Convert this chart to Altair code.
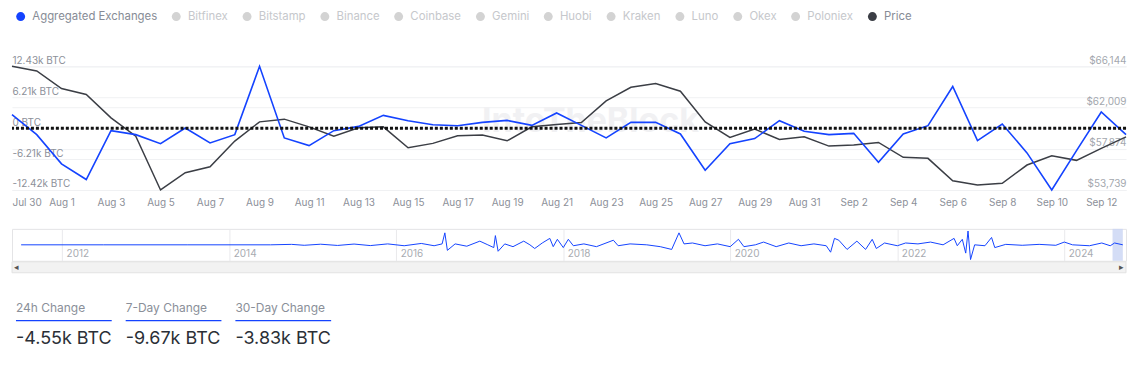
import altair as alt
import pandas as pd

# ---------------- data ----------------
dates = pd.date_range("2024-07-30", "2024-09-13", freq="D").strftime("%Y-%m-%d").tolist()

netflow_k = [2.71, -1.30, -7.17, -10.32, -0.50, -1.30, -3.11, 0.04, -2.97, -1.30,
             12.43, -1.96, -3.51, -0.50, 0.36, 2.57, 1.50, 0.70, 0.50, 1.16,
             1.56, 0.56, 3.05, 0.56, -1.96, 1.16, 1.16, -1.16, -8.46, -3.11,
             -2.10, 1.50, -0.64, -1.30, -1.04, -6.85, -1.16, 0.50, 8.38, -2.50,
             0.84, -4.97, -12.42, -4.51, 3.25, -1.30]

price_usd = [66144, 65674, 63913, 63313, 60972, 59141, 53739, 55470, 56070, 58641,
             60572, 60842, 60072, 59141, 59972, 60072, 57971, 58411, 59171, 59241,
             58671, 60072, 60312, 60512, 62673, 64043, 64413, 63643, 60572, 59011,
             59841, 58811, 59071, 58141, 58241, 58511, 57010, 56910, 54669, 54239,
             54409, 56240, 57170, 56710, 57911, 59071]

series_names = ["Aggregated Exchanges", "Bitfinex", "Bitstamp", "Binance", "Coinbase",
                "Gemini", "Huobi", "Kraken", "Luno", "Okex", "Poloniex", "Price"]

left_ticks = [-12.42, -6.21, 0, 6.21, 12.43]
right_ticks = [53739, 57874, 62009, 66144]

# long-range navigator (hand-read estimates of the overview line)
nav_dates = ["2011-07-06", "2012-07-01", "2013-07-01", "2014-07-01", "2014-10-01", "2014-11-25",
             "2015-02-05", "2015-04-20", "2015-07-01", "2015-09-10", "2015-11-25", "2016-02-05",
             "2016-04-20", "2016-06-15", "2016-07-20", "2016-08-01", "2016-08-12", "2016-09-15",
             "2016-11-05", "2017-01-01", "2017-02-05", "2017-03-03", "2017-03-10", "2017-03-22",
             "2017-04-20", "2017-05-26", "2017-07-12", "2017-08-08", "2017-08-29", "2017-10-01",
             "2017-11-03", "2017-11-18", "2017-12-06", "2018-01-01", "2018-01-23", "2018-02-14",
             "2018-04-01", "2018-05-26", "2018-08-08", "2018-08-29", "2018-10-20", "2019-01-01",
             "2019-03-01", "2019-04-20", "2019-05-22", "2019-06-13", "2019-07-20", "2019-09-13",
             "2019-11-06", "2020-01-01", "2020-02-06", "2020-03-01", "2020-04-20", "2020-05-26",
             "2020-07-20", "2020-09-13", "2020-11-06", "2021-01-01", "2021-02-24", "2021-03-15",
             "2021-04-01", "2021-04-20", "2021-05-26", "2021-07-08", "2021-08-15", "2021-09-13",
             "2021-10-01", "2021-11-06", "2022-01-01", "2022-02-06", "2022-04-01", "2022-05-26",
             "2022-07-20", "2022-09-06", "2022-09-20", "2022-10-12", "2022-10-27", "2022-11-06",
             "2022-11-17", "2022-12-05", "2023-01-19", "2023-02-17", "2023-03-03", "2023-04-20",
             "2023-07-01", "2023-09-13", "2023-11-25", "2024-01-01", "2024-02-06", "2024-04-20",
             "2024-06-13", "2024-07-20", "2024-08-08", "2024-09-13"]
nav_values = [0, 0, 0, 0, 1.5, -1.5,
              2, -2, 2.5, -2.5, 3, -3,
              4.5, -3, 3, 39, -18, 3,
              -4.5, 12, 0, -9, 30, -21,
              3, -6, 12, 0, -12, 6,
              21, -6, 18, -9, 18, -3,
              3, -6, 15, -3, 3, 0,
              -6, -15, 39, 3, 6, -3,
              3, -6, 18, -6, 0, 9,
              -6, 6, -3, 3, -3, -24,
              21, 15, -15, 12, -15, 18,
              -12, 6, -3, 6, 3, 9,
              0, 21, -3, 18, -27, 45,
              -48, 0, -3, 24, -9, 1.5,
              -1.5, 1.5, -1.5, 9, 0, -3,
              6, -3, 6, 0]

stat_labels = ["24h Change", "7-Day Change", "30-Day Change"]
stat_values = ["-4.55k BTC", "-9.67k BTC", "-3.83k BTC"]

# ---------------- style ----------------
BLUE = "#1443ff"
DARK = "#3b3e45"
AXIS_GRAY = "#8c9099"
GRID = "#f0f1f3"
FONT = "Inter"
series_colors = [BLUE] + ["#d3d3d3"] * 10 + [DARK]


def ms(d):
    return int(pd.Timestamp(d, tz="UTC").timestamp() * 1000)


x_tick_vals = [ms(d) for d in dates[0:-1:2]]
year_vals = [ms(f"{y}-01-01") for y in range(2012, 2025, 2)]

df = pd.DataFrame({
    "date": dates * 2,
    "series": ["Aggregated Exchanges"] * len(dates) + ["Price"] * len(dates),
    "value": netflow_k + price_usd,
})
df_flow = df[df.series == "Aggregated Exchanges"]
df_price = df[df.series == "Price"]

x_axis = alt.Axis(title=None, values=x_tick_vals, format="%b %-d", ticks=False, tickSize=0,
                  domain=False, grid=False, labelPadding=8, labelFontSize=10,
                  labelColor=AXIS_GRAY, labelFont=FONT, labelFlush=True)
x_main = alt.X("date:T", scale=alt.Scale(type="utc", nice=False), axis=x_axis)

left_scale = alt.Scale(domain=[-12.42, 12.43], nice=False, zero=False)
left_axis = alt.Axis(title=None, orient="left", values=left_ticks,
                     labelExpr="datum.value == 0 ? '0 BTC' : datum.value + 'k BTC'",
                     labelAlign="left", labelBaseline="bottom", labelPadding=0, labelOffset=-1,
                     ticks=False, tickSize=0, domain=False, grid=True, gridColor=GRID,
                     labelFlush=False, labelColor=AXIS_GRAY, labelFontSize=10, labelFont=FONT)
right_axis = alt.Axis(title=None, orient="right", values=right_ticks, format="$,d",
                      labelAlign="right", labelBaseline="bottom", labelPadding=0, labelOffset=-1,
                      ticks=False, tickSize=0, domain=False, grid=True, gridColor=GRID,
                      labelFlush=False, labelColor="#a3a7ae", labelFontSize=10, labelFont=FONT)

watermark = alt.Chart(pd.DataFrame({"t": ["IntoTheBlock"]})).mark_text(
    font=FONT, fontSize=34, fontWeight="bold", color="#f1f1f3", align="center", baseline="middle"
).encode(x=alt.value(580), y=alt.value(56), text="t:N")

price_line = alt.Chart(df_price).mark_line(color=DARK, strokeWidth=1.5).encode(
    x=x_main,
    y=alt.Y("value:Q", scale=alt.Scale(domain=[53739, 66144], nice=False, zero=False), axis=right_axis),
)

flow_line = alt.Chart(df_flow).mark_line(color=BLUE, strokeWidth=1.6).encode(
    x=x_main, y=alt.Y("value:Q", scale=left_scale, axis=left_axis)
)
zero_rule = alt.Chart(pd.DataFrame({"value": [0]})).mark_rule(
    color="#111111", strokeWidth=3, strokeDash=[3, 2]
).encode(y=alt.Y("value:Q", scale=left_scale, axis=left_axis))

legend_pts = alt.Chart(pd.DataFrame({"series": series_names})).mark_circle(opacity=0).encode(
    x=alt.value(30), y=alt.value(30),
    color=alt.Color("series:N", scale=alt.Scale(domain=series_names, range=series_colors),
                    legend=alt.Legend(orient="none", legendX=3, legendY=-56, direction="horizontal",
                                      columns=12, title=None, symbolType="circle", symbolSize=80,
                                      symbolOpacity=1, symbolStrokeWidth=0, labelFontSize=11.4,
                                      labelFont=FONT, labelOffset=6, columnPadding=13,
                                      labelColor={"expr": "indexof(['Aggregated Exchanges','Price'], datum.label) >= 0 ? '#878c96' : '#c6c8cc'"})),
)

main = alt.layer(
    watermark, price_line, alt.layer(flow_line, zero_rule), legend_pts
).resolve_scale(y="independent").properties(width=1117, height=124)

# ---------------- navigator ----------------
nav_df = pd.DataFrame({"date": nav_dates, "value": nav_values})
nav_x_scale = alt.Scale(type="utc", nice=False, domain=[ms("2011-05-27"), ms("2024-09-27")])
nav_axis = alt.Axis(title=None, values=year_vals, format="%Y", grid=True, gridColor="#e9e9ec",
                    ticks=False, tickSize=0, domain=False, labelAlign="left", labelBaseline="bottom",
                    labelPadding=-2, labelOffset=4, labelFlush=False, labelColor="#a8abb1",
                    labelFontSize=10, labelFont=FONT)

nav_line = alt.Chart(nav_df).mark_line(color=BLUE, strokeWidth=1).encode(
    x=alt.X("date:T", scale=nav_x_scale, axis=nav_axis),
    y=alt.Y("value:Q", scale=alt.Scale(domain=[-52, 52]), axis=None),
)
sel_df = pd.DataFrame({"start": [dates[0]], "end": [dates[-1]]})
nav_band = alt.Chart(sel_df).mark_rect(color="#c9d5f4", opacity=0.8).encode(
    x=alt.X("start:T", scale=nav_x_scale, axis=nav_axis), x2="end:T"
)
one = pd.DataFrame({"a": [0]})
scrollbar = alt.Chart(one).mark_rect(fill="#f2f2f2", stroke="#e2e2e2", strokeWidth=1).encode(
    x=alt.value(0), x2=alt.value(1117), y=alt.value(33), y2=alt.value(44)
)
arrows = alt.Chart(pd.DataFrame({"t": ["◂", "▸"], "px": [5, 1112]})).mark_text(
    fontSize=9, color="#555555", align="center", baseline="middle"
).encode(x=alt.X("px:Q", scale=None), y=alt.value(38.5), text="t:N")

nav = alt.layer(nav_band, nav_line, scrollbar, arrows).properties(
    width=1117, height=32, view=alt.ViewBackground(stroke="#e4e4e6", strokeWidth=1)
)

# ---------------- stats ----------------
def stat_chart(i):
    d = pd.DataFrame({"label": [stat_labels[i]], "value": [stat_values[i]]})
    base = alt.Chart(d)
    lab = base.mark_text(align="left", baseline="middle", fontSize=12, font=FONT, color="#8a8f99").encode(
        x=alt.value(4), y=alt.value(14), text="label:N")
    rule = base.mark_rule(color=BLUE, strokeWidth=1.5).encode(
        x=alt.value(4), x2=alt.value(100), y=alt.value(27))
    val = base.mark_text(align="left", baseline="middle", fontSize=18, font=FONT, color="#2b2f36").encode(
        x=alt.value(4), y=alt.value(45), text="value:N")
    return alt.layer(lab, rule, val).properties(width=100, height=57)


stats = alt.hconcat(stat_chart(0), stat_chart(1), stat_chart(2), spacing=9)

chart = alt.vconcat(main, nav, stats, spacing=20).properties(
    padding={"left": 0, "top": 2, "right": 5, "bottom": 0}
).configure(font=FONT).configure_view(strokeWidth=0)

chart.save("out.html", embed_options={"renderer": "svg", "actions": False})
